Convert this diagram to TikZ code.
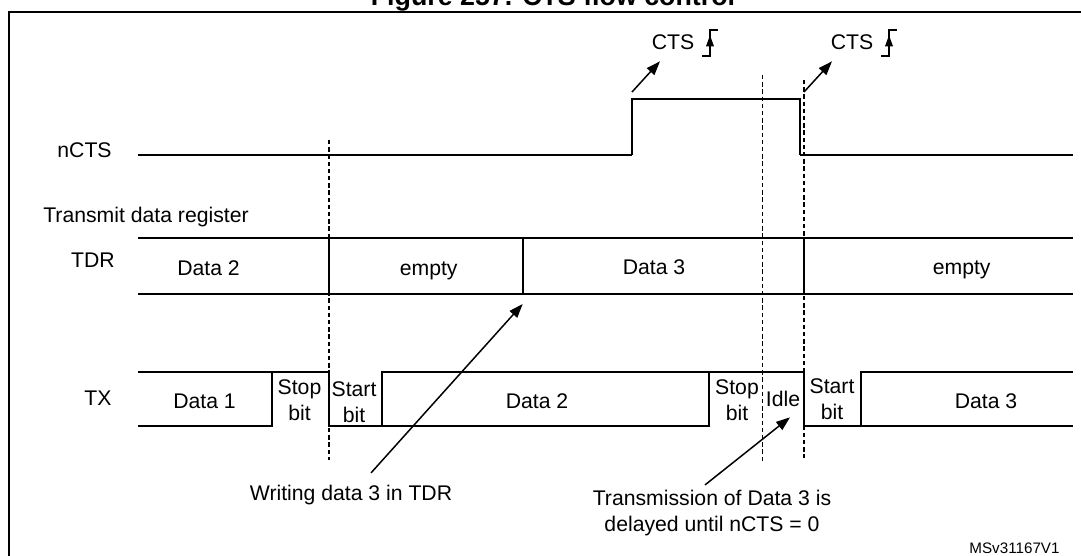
\documentclass[tikz,border=0pt]{standalone}
\usepackage{fontspec}
\setmainfont{Liberation Sans}
\usetikzlibrary{arrows.meta}
\begin{document}
\begin{tikzpicture}[x=0.5pt,y=-0.5pt,
    every node/.style={font=\fontsize{10.6}{13}\selectfont, inner sep=0pt},
    lbl/.style={anchor=base},
    two/.style={align=center},
    wave/.style={line width=0.85pt},
    sep/.style={dash pattern=on 2.2pt off 1.4pt, line width=0.85pt},
    arr/.style={-{Triangle[length=7pt,width=5pt]}, line width=0.75pt}]
	\useasboundingbox (0,0) rectangle (1081,556);
	\clip (0,0) rectangle (1081,556);
    \node[lbl, font=\fontsize{13.4}{16}\selectfont\bfseries] (title) at (553,6) {Figure 257. CTS flow control};
    \draw[line width=1.2pt] (9,12) rectangle (1095,575);
    % row labels
    \node[lbl] (ncts) at (84.5,157.7) {nCTS};
    \node[lbl] (tdrreg) at (146,222.7) {Transmit data register};
    \node[lbl] (tdr) at (93,267) {TDR};
    \node[lbl] (tx) at (98,405) {TX};
    % nCTS
    \coordinate (up) at (632,99);
    \coordinate (down) at (800,99);
    \draw[wave] (138,155) -- (632,155);
    \draw[line width=1.4pt] (632,155) -- (up) -- (down) -- (800,155);
    \draw[wave] (800,155) -- (1073,155);
    \node[lbl] (cts1) at (673,49.3) {CTS};
    \node[lbl] (cts2) at (852,49.3) {CTS};
    \foreach \n in {cts1,cts2}{
        \draw[wave] ([shift={(29,7)}]\n.base) -- ++(8,0) -- ++(0,-26) -- ++(8,0);
        \fill ([shift={(37,-14)}]\n.base) -- ++(4,11) -- ++(-8,0) -- cycle;
    }
    \draw[arr] ([shift={(0,-7)}]up) -- ([shift={(-13,12)}]cts1.base);
    \draw[arr] ([shift={(4,-7)}]down) -- ([shift={(-20,12)}]cts2.base);
    % TDR
    \draw[wave] (138,238) -- (1073,238) (138,294) -- (1073,294);
    \foreach \x in {329,522.7,804} \draw[wave] (\x,238) -- (\x,294);
    \coordinate (load) at (522.7,294);
    \node[lbl] (tdr2) at (208.5,275) {Data 2};
    \node[lbl] (tdre1) at (428.7,275) {empty};
    \node[lbl] (tdr3) at (654,274.5) {Data 3};
    \node[lbl] (tdre2) at (961.7,274.5) {empty};
    % TX
    \draw[wave] (138,426) -- (271.7,426) -- (271.7,372);
    \draw[wave] (138,372) -- (329,372) -- (329,426) -- (381.7,426) -- (381.7,372) -- (804,372) -- (804,426) -- (1073,426);
    \draw[wave] (381.7,426) -- (709,426) -- (709,372);
    \draw[wave] (861,426) -- (861,372) -- (1073,372);
    \node[lbl] (tx1) at (204.5,408) {Data 1};
    \node[two] (stop1) at (299.5,400) {Stop\\bit};
    \node[two] (start1) at (354,402) {Start\\bit};
    \node[lbl] (tx2) at (537,408) {Data 2};
    \node[two] (stop2) at (737,400) {Stop\\bit};
    \node[lbl] (idle) at (783,406.7) {Idle};
    \node[two] (start2) at (832,399) {Start\\bit};
    \node[lbl] (tx3) at (986,408) {Data 3};
    % dashed markers
    \draw[sep] (329,140) -- (329,460);
    \draw[sep] (762.5,75) -- (762.5,463);
    \draw[sep] (804,80) -- (804,458);
    % notes
    \node[lbl] (write) at (351,500.7) {Writing data 3 in TDR};
    \draw[arr] ([shift={(20,-12)}]write.north) -- ([shift={(0,10)}]load);
    \node[two] (delay) at (712,513.2) {Transmission of Data 3 is\\delayed until nCTS = 0};
    \draw[arr] ([shift={(-7,-5)}]delay.north) -- ([shift={(7,10)}]idle.south);
    \node[lbl, font=\fontsize{7.6}{9}\selectfont] (msv) at (1014.5,553) {MSv31167V1};
\end{tikzpicture}
\end{document}
